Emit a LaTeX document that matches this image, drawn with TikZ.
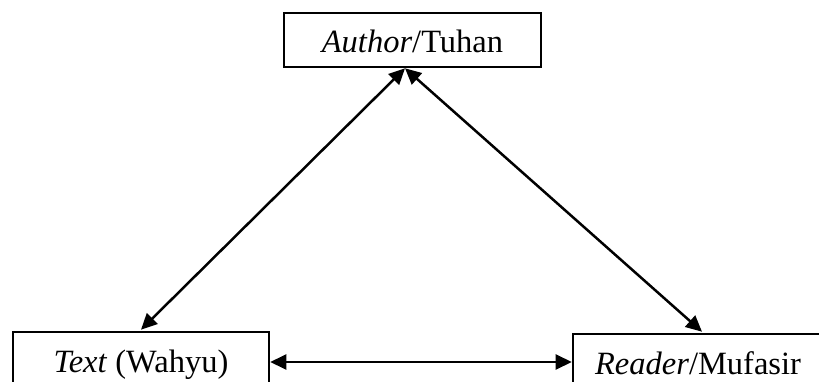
\documentclass[tikz,border=0pt]{standalone}
\usepackage{fontspec}
\setmainfont{Liberation Serif}
\usetikzlibrary{arrows.meta}
\begin{document}
\begin{tikzpicture}[x=1pt,y=-1pt,
  box/.style={draw, line width=2.6pt, inner xsep=0pt, inner ysep=0pt,
    minimum height=54pt, text height=27pt, text depth=1pt,
    font=\fontsize{32.5}{39}\selectfont},
  link/.style={line width=2.5pt, {Triangle[length=16pt,width=15pt]}-{Triangle[length=16pt,width=15pt]}}]
\useasboundingbox (0,0) rectangle (819,382);
\clip (0,0) rectangle (819,382);
\node[box, minimum width=257pt] (top) at (412.5,40) {\textit{Author}/Tuhan};
\node[box, minimum width=256pt] (left) at (141,359) {\textit{Text} (Wahyu)};
\node[box, minimum width=250pt] (right) at (698,361) {\textit{Reader}/Mufasir};
\draw[link] ([xshift=-7.5pt]top.south) -- ([yshift=1pt]left.north);
\draw[link] ([xshift=-7.5pt]top.south) -- ([xshift=4pt,yshift=1pt]right.north);
\draw[link] ([yshift=-3pt]left.east) -- ([yshift=-1pt]right.west);
\end{tikzpicture}
\end{document}
